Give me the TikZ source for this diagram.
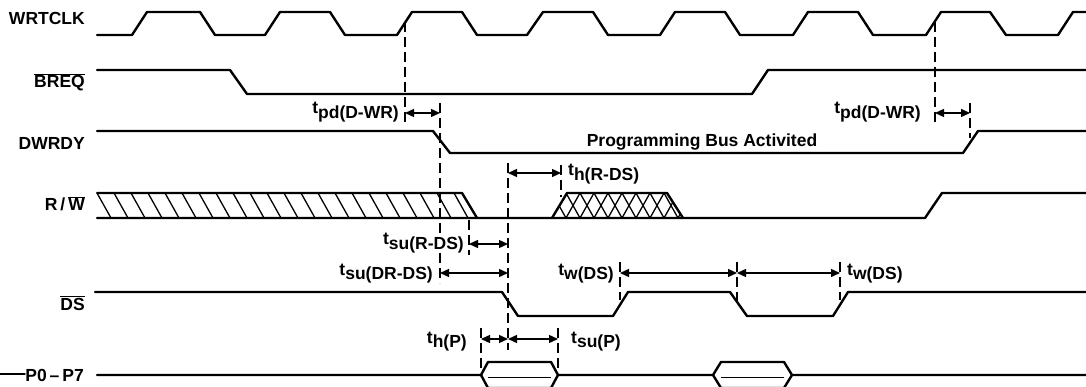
\documentclass[tikz,border=0pt]{standalone}
\usepackage{fontspec}
\setmainfont{Liberation Sans}
\usetikzlibrary{arrows.meta}
\newcommand\ovl[1]{\ensuremath{\overline{\mbox{#1}}}}
\newcommand\tsub[1]{t\raisebox{-4.5pt}{#1}}
\tikzset{
  sig/.style={line width=2.4pt, line join=round, line cap=round},
  thinline/.style={line width=0.9pt},
  hatchline/.style={line width=1.3pt},
  dimline/.style={line width=1.4pt, {Triangle[length=9pt,width=8pt]}-{Triangle[length=9pt,width=8pt]}},
  vbar/.style={line width=1.6pt, dash pattern=on 10pt off 5pt},
  lbl/.style={font=\fontsize{17.5}{20}\selectfont\bfseries, inner sep=0pt},
  tlbl/.style={lbl, fill=white, inner xsep=1pt, inner ysep=0pt},
}
\begin{document}
\begin{tikzpicture}[x=1pt,y=-1pt]
\useasboundingbox (0,0) rectangle (1086,387);
\fill[white] (0,0) rectangle (1086,387);
\clip (0,0) rectangle (1086,387);

% ---------- signal names ----------
\node[lbl, anchor=base east] (nWRTCLK) at (85,25) {WRTCLK};
\node[lbl, anchor=base east] (nBREQ) at (85,88) {\ovl{BREQ}};
\node[lbl, anchor=base east] (nDWRDY) at (85,150) {DWRDY};
\node[lbl, anchor=base east] (nRW) at (85,211) {R\,/\,\ovl{W}};
\node[lbl, anchor=base east] (nDS) at (85,310) {\ovl{DS}};
\node[lbl, anchor=base east] (nP) at (84,381) {P0\,–\,P7};
\draw[sig, line width=1.4pt] (0,374) -- (25,374);

% ---------- WRTCLK ----------
\draw[sig] (97,35) -- (132,35) -- (147,12) -- (200,12) -- (215,35) -- (265,35) -- (280,12) -- (330,12) -- (345,35)
  -- (397,35) -- (412,12) -- (462,12) -- (477,35) -- (527,35) -- (543,12) -- (593,12) -- (608,35)
  -- (660,35) -- (675,12) -- (725,12) -- (740,35) -- (793,35) -- (808,12) -- (858,12) -- (873,35)
  -- (926,35) -- (941,12) -- (990,12) -- (1006,35) -- (1058,35) -- (1073,12) -- (1090,12);

% ---------- BREQ ----------
\draw[sig] (97,70) -- (230,70) -- (247,94) -- (752,94) -- (768,70) -- (1090,70);

% ---------- DWRDY ----------
\draw[sig] (97,131) -- (433,131) -- (450,153) -- (963,153) -- (978,131) -- (1090,131);
\node[lbl, anchor=base] (prog) at (702,147) {Programming Bus Activited};

% ---------- R/W ----------
\begin{scope}
  \clip (97,193) -- (462,193) -- (477,218) -- (97,218) -- cycle;
  \foreach \x in {80,97,...,480} \draw[hatchline] (\x,193) -- (\x+14,218);
\end{scope}
\begin{scope}
  \clip (552,218) -- (567,193) -- (667,193) -- (683,218) -- cycle;
  \foreach \x in {538,552,...,690} {
    \draw[hatchline] (\x,193) -- (\x+14,218);
    \draw[hatchline] (\x+14,193) -- (\x,218);
  }
\end{scope}
\draw[sig] (97,193) -- (462,193) -- (477,218);
\draw[sig] (97,218) -- (925,218) -- (942,193) -- (1090,193);
\draw[sig] (552,218) -- (567,193) -- (667,193) -- (683,218);

% ---------- DS ----------
\draw[sig] (95,292) -- (502,292) -- (518,316) -- (613,316) -- (628,292) -- (730,292) -- (747,316)
  -- (833,316) -- (848,292) -- (1090,292);

% ---------- P0-P7 ----------
\draw[sig] (97,375) -- (481,375) -- (488,362) -- (551,362) -- (558,375) -- (713,375) -- (721,362)
  -- (784,362) -- (792,375) -- (1090,375);
\draw[sig] (481,375) -- (488,388) -- (551,388) -- (558,375);
\draw[sig] (713,375) -- (721,388) -- (784,388) -- (792,375);
\draw[thinline] (488,377) -- (551,377);
\draw[thinline] (721,377) -- (784,377);

% ---------- reference bars ----------
\coordinate (a1t) at (405,22);  \coordinate (a1b) at (405,123);
\coordinate (b1t) at (440,103); \coordinate (b1b) at (440,283);
\coordinate (c1t) at (508,163); \coordinate (c1b) at (508,350);
\coordinate (d1t) at (469,220); \coordinate (d1b) at (469,255);
\coordinate (e1t) at (561,165); \coordinate (e1b) at (561,197);
\coordinate (f1t) at (620,262); \coordinate (f1b) at (620,300);
\coordinate (g1t) at (737,262); \coordinate (g1b) at (737,306);
\coordinate (h1t) at (840,262); \coordinate (h1b) at (840,300);
\coordinate (p1t) at (481,328); \coordinate (p1b) at (481,372);
\coordinate (q1t) at (558,328); \coordinate (q1b) at (558,372);
\coordinate (a2t) at (935,22);  \coordinate (a2b) at (935,123);
\coordinate (b2t) at (970,103); \coordinate (b2b) at (970,138);
\foreach \n in {a1,b1,c1,d1,e1,f1,g1,h1,p1,q1,a2,b2}
  \draw[vbar] (\n t) -- (\n b);

% ---------- dimension arrows ----------
\coordinate (pd1L) at (405,113); \coordinate (pd1R) at (440,113);
\coordinate (pd2L) at (935,113); \coordinate (pd2R) at (970,113);
\coordinate (hrL) at (508,173);  \coordinate (hrR) at (561,173);
\coordinate (surL) at (469,244); \coordinate (surR) at (508,244);
\coordinate (sudL) at (440,273); \coordinate (sudR) at (508,273);
\coordinate (w1L) at (620,273);  \coordinate (w1R) at (737,273);
\coordinate (w2L) at (737,273);  \coordinate (w2R) at (840,273);
\coordinate (hpL) at (481,339);  \coordinate (hpR) at (508,339);
\coordinate (spL) at (508,339);  \coordinate (spR) at (558,339);
\draw[dimline] (pd1L) -- (pd1R);
\draw[dimline] (pd2L) -- (pd2R);
\draw[dimline] (hrL) -- (hrR);
\draw[dimline] (surL) -- (surR);
\draw[dimline] (sudL) -- (sudR);
\draw[dimline] (w1L) -- (w1R);
\draw[dimline] (w2L) -- (w2R);
\draw[dimline] (hpL) -- (hpR);
\draw[dimline] (spL) -- (spR);

% ---------- timing labels ----------
\node[tlbl, anchor=base east] (tpd1) at (400,114) {\tsub{pd(D-WR)}};
\node[tlbl, anchor=base east] (tpd2) at (922,114) {\tsub{pd(D-WR)}};
\node[tlbl, anchor=base west] (thr) at (567,176) {\tsub{h(R-DS)}};
\node[tlbl, anchor=base east] (tsur) at (465,245) {\tsub{su(R-DS)}};
\node[tlbl, anchor=base east] (tsud) at (434,275) {\tsub{su(DR-DS)}};
\node[tlbl, anchor=base east] (tw1) at (615,275) {\tsub{w(DS)}};
\node[tlbl, anchor=base west] (tw2) at (846,275) {\tsub{w(DS)}};
\node[tlbl, anchor=base east] (thp) at (468,343) {\tsub{h(P)}};
\node[tlbl, anchor=base west] (tsp) at (570,343) {\tsub{su(P)}};
\end{tikzpicture}
\end{document}
